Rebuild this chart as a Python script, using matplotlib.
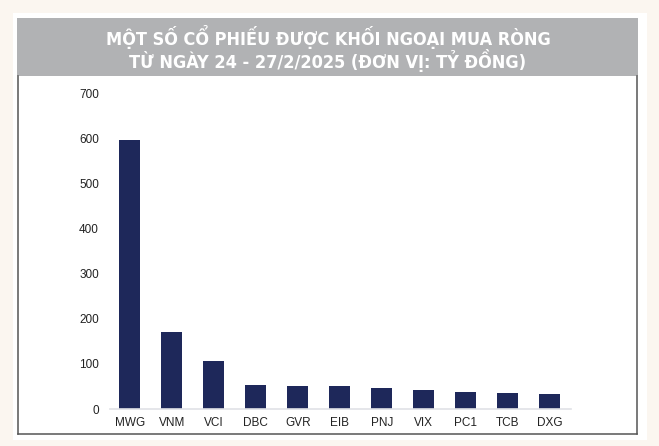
import matplotlib
matplotlib.use("Agg")
import matplotlib.pyplot as plt
from matplotlib.patches import Rectangle
from matplotlib.lines import Line2D
import numpy as np

codes = ["MWG", "VNM", "VCI", "DBC", "GVR", "EIB", "PNJ", "VIX", "PC1", "TCB", "DXG"]
values = [596, 170, 106, 54, 52, 50, 47, 41, 38, 35, 33]
yticks = [0, 100, 200, 300, 400, 500, 600, 700]
title_lines = ["MỘT SỐ CỔ PHIẾU ĐƯỢC KHỐI NGOẠI MUA RÒNG",
               "TỪ NGÀY 24 - 27/2/2025 (ĐƠN VỊ: TỶ ĐỒNG)"]

W, H = 659, 446
fig = plt.figure(figsize=(W / 100, H / 100), dpi=100)
fig.patch.set_facecolor("#fbf6f0")


def px(x, y):
    # pixel (from top-left) -> figure fraction
    return x / W, 1 - y / H


def rect(x0, y0, x1, y1, color):
    fig.patches.append(Rectangle(px(x0, y1), (x1 - x0) / W, (y1 - y0) / H,
                                 transform=fig.transFigure, facecolor=color,
                                 edgecolor="none", zorder=-5))


rect(13, 13, 647, 440, "white")
rect(17, 18, 638, 76, "#b1b2b4")

# dark frame under the header
for xs, ys in [((18, 18), (76, 434)), ((637, 637), (76, 434)), ((18, 637), (434, 434))]:
    a = px(xs[0], ys[0])
    b = px(xs[1], ys[1])
    fig.lines.append(Line2D([a[0], b[0]], [a[1], b[1]], transform=fig.transFigure,
                            color="#555555", lw=1.1, zorder=-4))

fig.text(*px(328, 37), title_lines[0], ha="center", va="center", color="white",
         fontsize=13, fontweight="bold", fontstretch="condensed", family="DejaVu Sans")
fig.text(*px(328, 60), title_lines[1], ha="center", va="center", color="white",
         fontsize=13, fontweight="bold", fontstretch="condensed", family="DejaVu Sans")

left, right = 110 / W, 571 / W
bottom, top = 1 - 409 / H, 1 - 93 / H
ax = fig.add_axes([left, bottom, right - left, top - bottom])
ax.set_facecolor("none")
ax.set_zorder(2)

x = np.arange(len(codes))
ax.bar(x, values, width=0.5, color="#1e285a")
ax.set_xlim(-0.47, 10.5)
ax.set_ylim(0, 700)
ax.set_yticks(yticks)
ax.set_yticklabels([str(t) for t in yticks])
ax.set_xticks(x)
ax.set_xticklabels(codes)
for s in ["top", "right", "left"]:
    ax.spines[s].set_visible(False)
ax.spines["bottom"].set_color("#e0e2e6")
ax.spines["bottom"].set_linewidth(1.2)
ax.tick_params(axis="both", length=0, labelsize=8.5, colors="#222222",
               labelfontfamily="Liberation Sans")
ax.tick_params(axis="y", pad=8)
ax.tick_params(axis="x", pad=6)

fig.savefig("out.png", dpi=100, facecolor=fig.get_facecolor())
